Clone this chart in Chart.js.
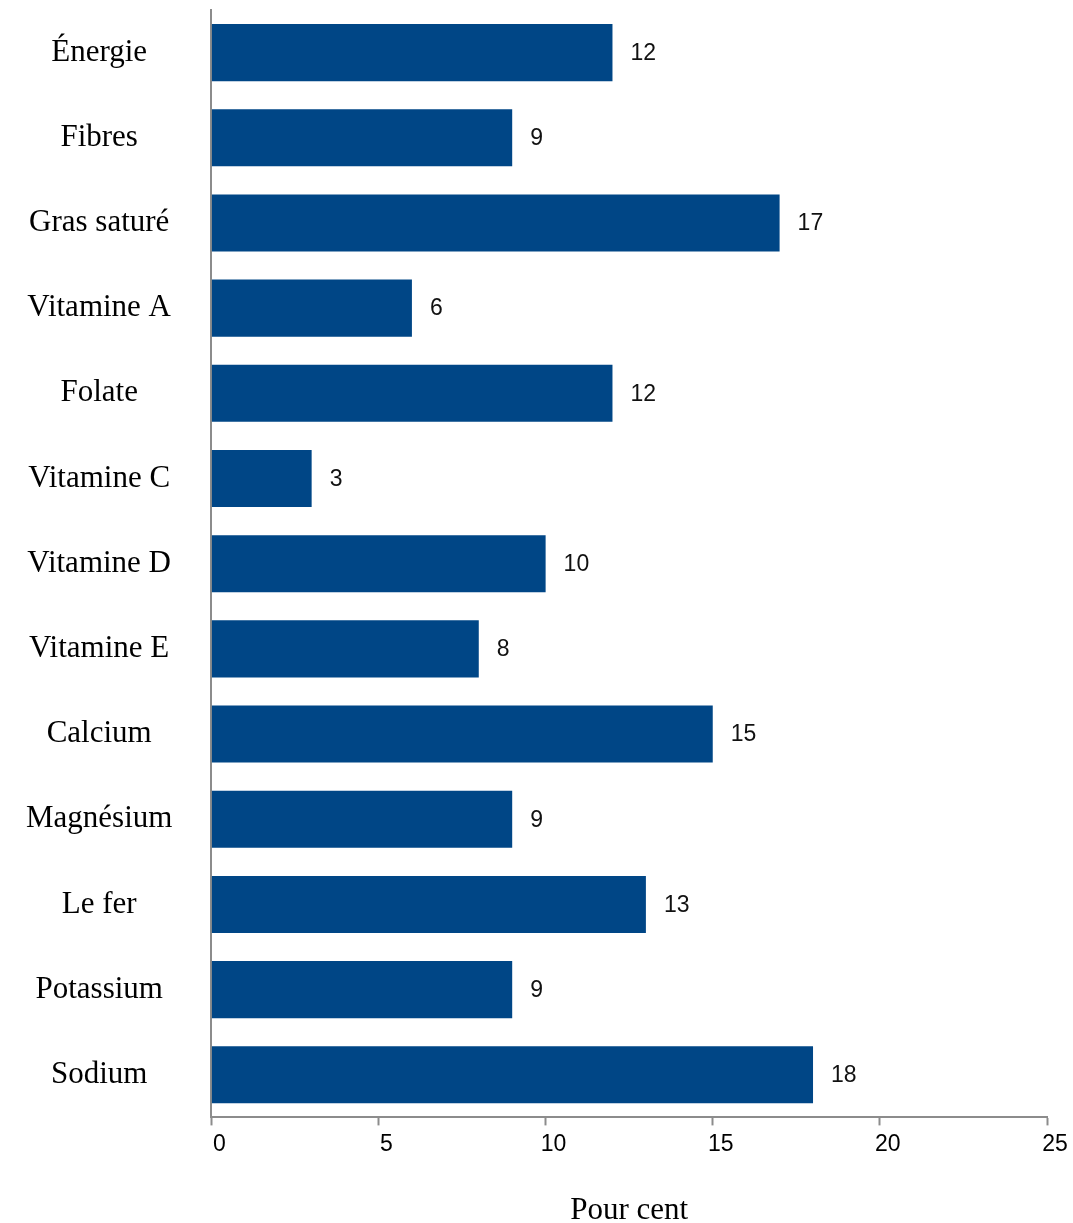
<!DOCTYPE html>
<html lang="fr">
<head>
<meta charset="utf-8">
<title>Pour cent</title>
<script src="https://cdn.jsdelivr.net/npm/chart.js@4.4.1/dist/chart.umd.min.js"></script>
<style>
    html, body { margin: 0; padding: 0; background: #fff; }
    #graphique { display: block; }
</style>
</head>
<body>
<canvas id="graphique" width="1073" height="1223"></canvas>
<script>
// Nutriments et pourcentages
const nutriments = ['Énergie', 'Fibres', 'Gras saturé', 'Vitamine A', 'Folate', 'Vitamine C',
    'Vitamine D', 'Vitamine E', 'Calcium', 'Magnésium', 'Le fer', 'Potassium', 'Sodium']
const pourcentages = [12, 9, 17, 6, 12, 3, 10, 8, 15, 9, 13, 9, 18]
const graduations = [0, 5, 10, 15, 20, 25]

const bleu = '#004686'
const gris = '#8c8c8c'
const serif = '"Liberation Serif", "Times New Roman", serif'
const sans = '"Liberation Sans", Arial, sans-serif'

// Affiche la valeur à droite de chaque barre
const etiquettesValeurs = {
    id: 'etiquettesValeurs',
    afterDatasetsDraw(chart) {
        const ctx = chart.ctx
        const meta = chart.getDatasetMeta(0)
        ctx.save()
        ctx.font = '23px ' + sans
        ctx.fillStyle = '#111'
        ctx.textAlign = 'left'
        ctx.textBaseline = 'middle'
        meta.data.forEach((barre, i) => {
            ctx.fillText(String(pourcentages[i]), barre.x + 18, barre.y + 1)
        })
        ctx.restore()
    }
}

const ctx = document.getElementById('graphique').getContext('2d')

const graphique = new Chart(ctx, {
    type: 'bar',
    data: {
        labels: nutriments,
        datasets: [{
            data: pourcentages,
            backgroundColor: bleu,
            borderWidth: 0,
            categoryPercentage: 0.67,
            barPercentage: 1
        }]
    },
    plugins: [etiquettesValeurs],
    options: {
        indexAxis: 'y',
        responsive: false,
        animation: false,
        layout: {
            padding: { top: 10, left: 26, right: 26, bottom: 0 }
        },
        plugins: {
            legend: { display: false },
            tooltip: { enabled: false }
        },
        scales: {
            x: {
                min: 0,
                max: 25,
                afterBuildTicks: scale => {
                    scale.ticks = graduations.map(v => ({ value: v }))
                },
                grid: {
                    drawOnChartArea: false,
                    drawTicks: true,
                    tickLength: 8,
                    tickWidth: 2,
                    color: gris
                },
                border: { display: true, color: gris, width: 2 },
                ticks: {
                    color: '#000',
                    font: { family: sans, size: 23 },
                    padding: 5,
                    labelOffset: 8,
                    maxRotation: 0
                },
                title: {
                    display: true,
                    text: 'Pour cent',
                    color: '#000',
                    font: { family: serif, size: 31, lineHeight: 1 },
                    padding: { top: 32, bottom: -3 }
                }
            },
            y: {
                // la longueur des graduations (non dessinées) sert d'écart entre noms et axe
                grid: { display: false, drawTicks: true, tickLength: 39 },
                border: { display: true, color: gris, width: 2 },
                ticks: {
                    color: '#000',
                    font: { family: serif, size: 31, lineHeight: 0.6 },
                    crossAlign: 'center',
                    padding: 0
                }
            }
        }
    }
})
</script>
</body>
</html>
